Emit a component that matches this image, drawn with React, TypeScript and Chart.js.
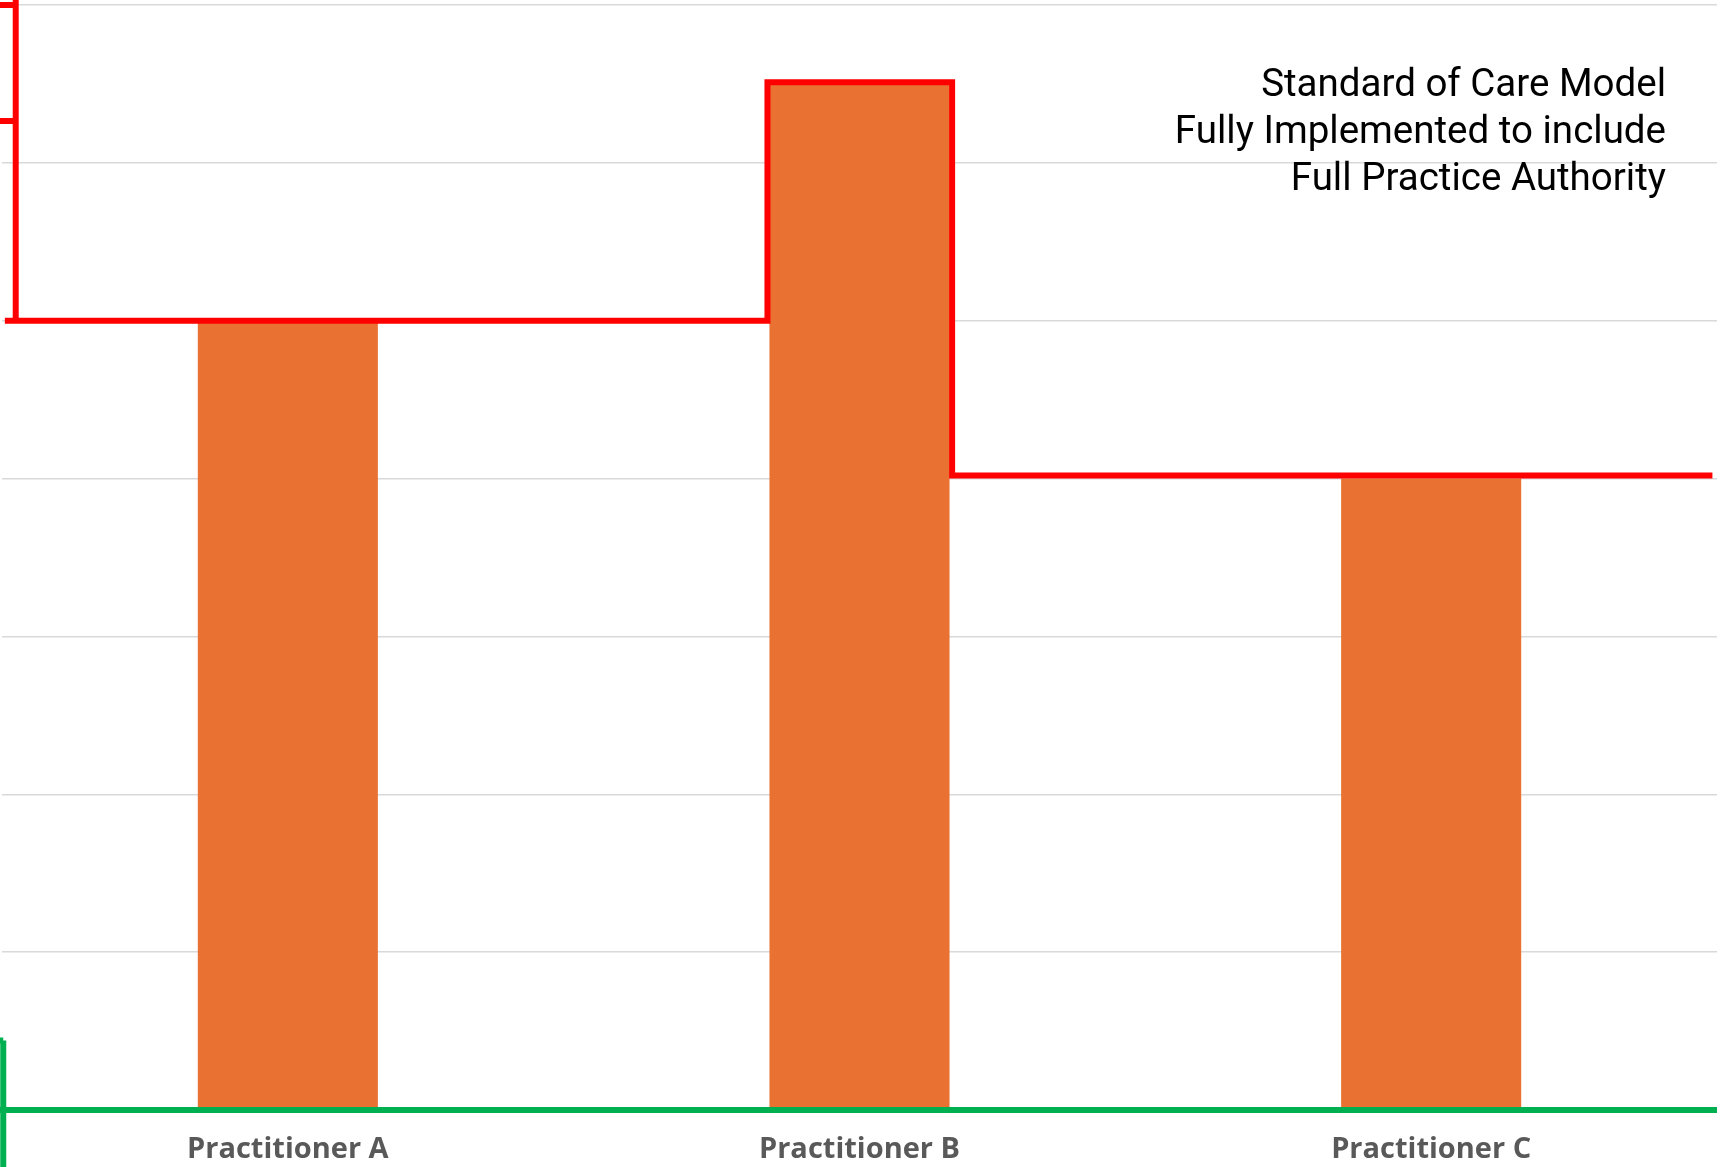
import React, { useEffect, useRef } from "react";
import { Chart, registerables } from "chart.js";

Chart.register(...registerables);

// ---- data ----
const categories = ["Practitioner A", "Practitioner B", "Practitioner C"];
const barValues = [5, 6.5, 4];
const yMin = 0;
const yMax = 7;
const yStep = 1;

// red "standard of care" step line (x in category units, y in value units)
const stepX = [-0.495, 0.839, 0.839, 1.162, 1.162, 2.492];
const stepY = [5, 5, 6.51, 6.51, 4.02, 4.02];

// cropped red bracket at the left edge (null = break)
const redBracketX = [-0.476, -0.476, -0.476, -0.504, -0.476, -0.476, -0.504, -0.476];
const redBracketY = [7.04, 5, null, 7.0, 7.0, null, 6.265, 6.265];

// green baseline + cropped green bracket at the bottom-left
const greenX = [-0.504, 2.5, 2.5, -0.4978, -0.4978, -0.4978, -0.504, -0.4978];
const greenY = [0, 0, null, 0.44, -0.37, null, 0.44, 0.44];

const noteLines = [
  "Standard of Care Model",
  "Fully Implemented to include",
  "Full Practice Authority",
];

const toPoints = (xs: number[], ys: (number | null)[]) =>
  xs.map((x, i) => ({ x, y: ys[i] }));

const notePlugin = {
  id: "noteText",
  afterDraw(chart: any) {
    const ctx = chart.ctx;
    ctx.save();
    ctx.font = "38.5px Roboto";
    ctx.fillStyle = "#000000";
    ctx.textAlign = "right";
    ctx.textBaseline = "alphabetic";
    const right = chart.chartArea.right - 51;
    noteLines.forEach((t, i) => ctx.fillText(t, right, 95.7 + i * 47.2));
    ctx.restore();
  },
};

const lineStyle = {
  type: "line" as const,
  xAxisID: "x2",
  borderWidth: 6,
  pointRadius: 0,
  fill: false,
  tension: 0,
  spanGaps: false,
  clip: false as any,
  borderCapStyle: "butt" as const,
  borderJoinStyle: "miter" as const,
  order: 0,
};

export default function App() {
  const ref = useRef<HTMLCanvasElement | null>(null);

  useEffect(() => {
    document.body.style.margin = "0";
    const canvas = ref.current;
    if (!canvas) return;
    const chart = new Chart(canvas, {
      type: "bar",
      data: {
        labels: categories,
        datasets: [
          {
            ...lineStyle,
            label: "green",
            data: toPoints(greenX, greenY) as any,
            borderColor: "#00b050",
          },
          {
            ...lineStyle,
            label: "step",
            data: toPoints(stepX, stepY) as any,
            borderColor: "#ff0000",
          },
          {
            ...lineStyle,
            label: "bracket",
            data: toPoints(redBracketX, redBracketY) as any,
            borderColor: "#ff0000",
          },
          {
            type: "bar",
            label: "value",
            data: barValues,
            xAxisID: "x",
            backgroundColor: "#e97132",
            borderWidth: 0,
            grouped: false,
            categoryPercentage: 1,
            barPercentage: 0.315,
            order: 1,
          } as any,
        ],
      },
      options: {
        responsive: false,
        animation: false,
        devicePixelRatio: 1,
        layout: { padding: { left: 2, right: 4, top: 5, bottom: 0 } },
        plugins: {
          legend: { display: false },
          tooltip: { enabled: false },
          title: { display: false },
        },
        scales: {
          x: {
            type: "category",
            offset: true,
            grid: { display: false, drawTicks: false },
            border: { display: false },
            ticks: {
              color: "#595959",
              padding: 22,
              font: { family: "'Open Sans'", size: 29, weight: "bold", lineHeight: 1.2 },
            },
            afterFit: (scale: any) => {
              scale.height = 57;
            },
          },
          x2: {
            type: "linear",
            display: false,
            offset: false,
            grid: { offset: false },
            min: -0.5,
            max: 2.5,
          },
          y: {
            type: "linear",
            min: yMin,
            max: yMax,
            ticks: { display: false, stepSize: yStep },
            grid: { color: "#d9d9d9", lineWidth: 1.5, drawTicks: false },
            border: { display: false },
          },
        },
      } as any,
      plugins: [notePlugin],
    });
    return () => chart.destroy();
  }, []);

  return (
    <div style={{ width: 1721, height: 1167, position: "relative" }}>
      <canvas ref={ref} width={1721} height={1167} style={{ display: "block" }} />
    </div>
  );
}
